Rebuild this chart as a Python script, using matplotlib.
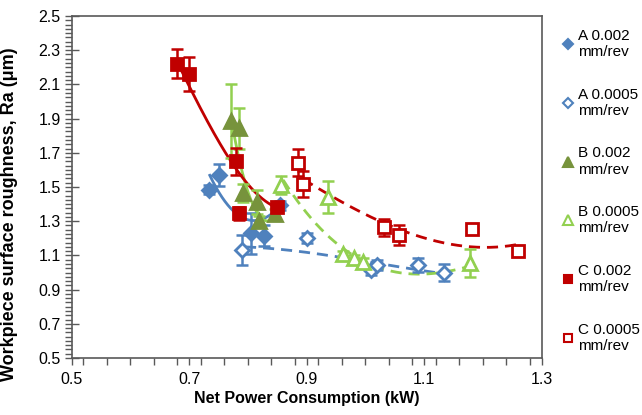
import numpy as np
import matplotlib
matplotlib.use("agg")
import matplotlib.pyplot as plt
from matplotlib.ticker import MultipleLocator
from matplotlib.lines import Line2D

plt.rcParams["font.family"] = ["Liberation Sans", "DejaVu Sans"]

# A 0.002 mm/rev
a1_x = [0.734, 0.751, 0.806, 0.828, 0.855]
a1_y = [1.485, 1.572, 1.229, 1.215, 1.393]
a1_e = [0.025, 0.065, 0.12, 0.06, 0.025]
# A 0.0005 mm/rev
a2_x = [0.790, 0.900, 1.010, 1.019, 1.089, 1.133]
a2_y = [1.132, 1.200, 1.015, 1.044, 1.044, 1.000]
a2_e = [0.09, 0.03, 0.03, 0.03, 0.04, 0.05]
# B 0.002 mm/rev
b1_x = [0.771, 0.784, 0.792, 0.815, 0.818, 0.846]
b1_y = [1.885, 1.843, 1.465, 1.414, 1.300, 1.340]
b1_e = [0.215, 0.12, 0.05, 0.07, 0.03, 0.03]
# B 0.0005 mm/rev
b2_x = [0.857, 0.937, 0.962, 0.980, 0.996, 1.178]
b2_y = [1.512, 1.443, 1.108, 1.083, 1.063, 1.054]
b2_e = [0.05, 0.095, 0.02, 0.02, 0.02, 0.083]
# C 0.002 mm/rev
c1_x = [0.680, 0.700, 0.779, 0.784, 0.850]
c1_y = [2.220, 2.160, 1.650, 1.346, 1.385]
c1_e = [0.085, 0.10, 0.08, 0.04, 0.03]
# C 0.0005 mm/rev
c2_x = [0.886, 0.893, 1.032, 1.057, 1.181, 1.259]
c2_y = [1.642, 1.518, 1.264, 1.220, 1.253, 1.126]
c2_e = [0.08, 0.075, 0.05, 0.06, 0.03, 0.02]

# trendlines
a1_tx = [0.735, 0.761, 0.789, 0.818, 0.846, 0.857]
a1_ty = [1.57, 1.41, 1.33, 1.305, 1.356, 1.40]
a2_tx = [0.795, 0.866, 0.928, 0.990, 1.025, 1.081, 1.133]
a2_ty = [1.15, 1.132, 1.102, 1.073, 1.054, 1.015, 0.995]
b1_tx = [0.773, 0.792, 0.806, 0.823, 0.838, 0.852]
b1_ty = [1.87, 1.56, 1.42, 1.32, 1.30, 1.35]
b2_tx = [0.860, 0.911, 0.957, 0.996, 1.042, 1.093, 1.133, 1.178]
b2_ty = [1.54, 1.307, 1.151, 1.063, 1.015, 0.995, 0.995, 1.04]
c1_tx = [0.680, 0.700, 0.727, 0.775, 0.820, 0.850]
c1_ty = [2.22, 2.11, 1.89, 1.64, 1.44, 1.38]
c2_tx = [0.894, 0.934, 0.996, 1.076, 1.127, 1.184, 1.240, 1.257]
c2_ty = [1.54, 1.473, 1.346, 1.22, 1.18, 1.155, 1.155, 1.16]

labels = ["A 0.002\nmm/rev", "A 0.0005\nmm/rev", "B 0.002\nmm/rev",
          "B 0.0005\nmm/rev", "C 0.002\nmm/rev", "C 0.0005\nmm/rev"]

blue = "#4F81BD"
red = "#C00000"
olive = "#77933C"
lgreen = "#92D050"
dash = (0, (4, 2.5))

series = [
    # x, y, err, trend x, trend y, marker, face, edge, barcolor, linestyle, size
    (a1_x, a1_y, a1_e, a1_tx, a1_ty, "D", blue, blue, blue, "-", 7),
    (a2_x, a2_y, a2_e, a2_tx, a2_ty, "D", "white", blue, blue, dash, 7),
    (b1_x, b1_y, b1_e, b1_tx, b1_ty, "^", olive, olive, lgreen, "-", 10),
    (b2_x, b2_y, b2_e, b2_tx, b2_ty, "^", "white", lgreen, lgreen, dash, 10),
    (c1_x, c1_y, c1_e, c1_tx, c1_ty, "s", red, red, red, "-", 8),
    (c2_x, c2_y, c2_e, c2_tx, c2_ty, "s", "white", red, red, dash, 8),
]

fig = plt.figure(figsize=(6.42, 4.15), dpi=100)
ax = fig.add_axes([0.1117, 0.1373, 0.7321, 0.8241])

handles = []
for x, y, e, tx, ty, mk, fc, ec, bc, ls, ms in series:
    # smooth trendline through the read points
    p = np.polyfit(tx, ty, 3)
    xs = np.linspace(min(tx), max(tx), 200)
    ax.plot(xs, np.polyval(p, xs), color=bc, lw=2, ls=ls, zorder=2)
    ax.errorbar(x, y, yerr=e, fmt="none", ecolor=bc, elinewidth=1.8,
                capsize=4, capthick=1.8, zorder=3)
    ax.plot(x, y, ls="none", marker=mk, ms=ms, mfc=fc, mec=ec, mew=2,
            zorder=4)
    handles.append(Line2D([], [], ls="none", marker=mk, ms=ms * 0.7,
                          mfc=fc, mec=ec, mew=1.5))

ax.set_xlim(0.5, 1.3)
ax.set_ylim(0.5, 2.5)
ax.xaxis.set_minor_locator(MultipleLocator(0.04))
ax.yaxis.set_minor_locator(MultipleLocator(0.025))
ax.set_xticks(np.arange(0.5, 1.31, 0.2))
ax.set_yticks(np.arange(0.5, 2.51, 0.2))
ax.set_xticklabels(["%.1f" % v for v in np.arange(0.5, 1.31, 0.2)])
ax.set_yticklabels(["%.1f" % v for v in np.arange(0.5, 2.51, 0.2)])

for s in ax.spines.values():
    s.set_color("#595959")
    s.set_linewidth(1.2)
ax.tick_params(axis="both", which="both", colors="#595959", labelcolor="black",
               labelsize=11.5, width=1)
ax.tick_params(axis="x", which="both", direction="out", length=5, pad=5)
ax.tick_params(axis="y", which="major", direction="inout", length=10, pad=3)
ax.tick_params(axis="y", which="minor", direction="out", length=5)

ax.set_xlabel("Net Power Consumption (kW)", fontsize=11.5, fontweight="bold")
ax.set_ylabel("Workpiece surface roughness, Ra (\u03bcm)", fontsize=13,
              fontweight="bold")
ax.xaxis.set_label_coords(0.5, -0.095)
ax.yaxis.set_label_coords(-0.115, 0.42)

fig.legend(handles, labels, loc="upper left", bbox_to_anchor=(0.865, 0.945),
           frameon=False, fontsize=11, handlelength=0.8, handletextpad=0.3,
           labelspacing=1.87, borderaxespad=0)

fig.savefig("out.png", dpi=100)
